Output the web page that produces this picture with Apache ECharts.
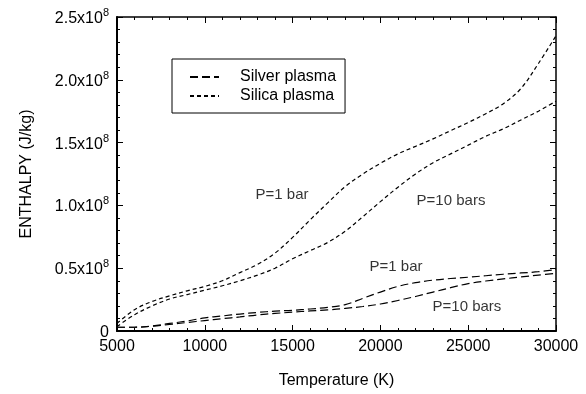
<!DOCTYPE html>
<html>
<head>
<meta charset="utf-8">
<script src="https://cdn.jsdelivr.net/npm/echarts@6/dist/echarts.min.js"></script>
<style>
  html, body { margin: 0; padding: 0; background: #fff; }
  #chart { width: 586px; height: 394px; }
</style>
</head>
<body>
<div id="chart"></div>
<script>
// Temperature grid (K)
const temperature = [5000, 6000, 7000, 8000, 9000, 10000, 11000, 12000, 13000, 14000,
  15000, 16000, 17000, 18000, 19000, 20000, 21000, 22000, 23000, 24000,
  25000, 26000, 27000, 28000, 29000, 30000];

// Enthalpy, in units of 10^8 J/kg
const silica1bar = [0.06, 0.17, 0.235, 0.28, 0.32, 0.355, 0.40, 0.465, 0.53, 0.62,
  0.745, 0.885, 1.02, 1.15, 1.25, 1.335, 1.41, 1.47, 1.53, 1.595,
  1.66, 1.73, 1.81, 1.93, 2.13, 2.35];
const silica10bar = [0.035, 0.13, 0.20, 0.255, 0.29, 0.325, 0.36, 0.40, 0.445, 0.50,
  0.575, 0.64, 0.705, 0.795, 0.91, 1.03, 1.145, 1.25, 1.34, 1.41,
  1.48, 1.55, 1.61, 1.68, 1.75, 1.83];
const silver1bar = [0.03, 0.03, 0.04, 0.06, 0.08, 0.105, 0.12, 0.135, 0.148, 0.158,
  0.165, 0.175, 0.188, 0.21, 0.26, 0.31, 0.355, 0.385, 0.405, 0.418,
  0.428, 0.44, 0.452, 0.462, 0.472, 0.49];
const silver10bar = [0.03, 0.03, 0.038, 0.052, 0.068, 0.083, 0.098, 0.112, 0.128, 0.14,
  0.15, 0.16, 0.168, 0.18, 0.195, 0.215, 0.243, 0.275, 0.31, 0.345,
  0.377, 0.398, 0.415, 0.43, 0.445, 0.46];

// Pressure annotations: [T, H (10^8 J/kg), text]
const pressureNotes = [
  [14400, 1.08, 'P=1 bar'],
  [24020, 1.04, 'P=10 bars'],
  [20890, 0.51, 'P=1 bar'],
  [24930, 0.196, 'P=10 bars']
];

const xTicks = [5000, 10000, 15000, 20000, 25000, 30000];
const yTicks = [0, 0.5, 1.0, 1.5, 2.0, 2.5];

const FONT = '"Liberation Sans", Arial, Helvetica, sans-serif';
const LONG_DASH = [8, 4];
const SHORT_DASH = [4, 3];

const pairs = (ys) => temperature.map((t, i) => [t, ys[i]]);

function curve(name, ys, dash) {
  return {
    name: name,
    type: 'line',
    data: pairs(ys),
    smooth: 0.35,
    symbol: 'none',
    showSymbol: false,
    silent: true,
    lineStyle: { color: '#000', width: 1.2, type: dash },
    itemStyle: { color: '#000' }
  };
}

// Fresh style objects for each axis
const axisLine = (w) => ({ show: true, onZero: false, lineStyle: { color: '#000', width: w } });
const majorTick = () => ({ show: true, inside: true, length: 6, lineStyle: { color: '#000', width: 1 } });
const minorTick = () => ({ show: true, splitNumber: 5, length: 3, lineStyle: { color: '#000', width: 1 } });

function xAxisOf(pos, labelled) {
  const ax = {
    type: 'value',
    position: pos,
    min: xTicks[0],
    max: xTicks[xTicks.length - 1],
    interval: xTicks[1] - xTicks[0],
    axisLine: axisLine(labelled ? 2 : 1.5),
    axisTick: majorTick(),
    minorTick: minorTick(),
    splitLine: { show: false },
    axisLabel: labelled
      ? { fontFamily: FONT, fontSize: 16, color: '#000', margin: 8, formatter: (v) => String(v) }
      : { show: false }
  };
  if (labelled) {
    ax.name = 'Temperature (K)';
    ax.nameLocation = 'middle';
    ax.nameGap = 42;
    ax.nameTextStyle = { fontFamily: FONT, fontSize: 16, color: '#000' };
  }
  return ax;
}

function yAxisOf(pos, labelled) {
  const ax = {
    type: 'value',
    position: pos,
    min: yTicks[0],
    max: yTicks[yTicks.length - 1],
    interval: yTicks[1] - yTicks[0],
    axisLine: axisLine(labelled ? 2 : 1.5),
    axisTick: majorTick(),
    minorTick: minorTick(),
    splitLine: { show: false },
    axisLabel: { show: false }
  };
  if (labelled) {
    ax.name = 'ENTHALPY (J/kg)';
    ax.nameLocation = 'middle';
    ax.nameGap = 82;
    ax.nameTextStyle = { fontFamily: FONT, fontSize: 16, color: '#000' };
    ax.axisLabel = {
      color: '#000',
      margin: 8,
      formatter: (v) => v === 0 ? '{z|0}' : '{m|' + v.toFixed(1) + 'x10}{e|8}',
      rich: {
        z: { fontFamily: FONT, fontSize: 16, color: '#000', padding: [4, 0, 0, 0] },
        m: { fontFamily: FONT, fontSize: 16, color: '#000', verticalAlign: 'bottom' },
        e: { fontFamily: FONT, fontSize: 11, color: '#000', verticalAlign: 'bottom', padding: [0, 0, 8, 0] }
      }
    };
  }
  return ax;
}

const chart = echarts.init(document.getElementById('chart'), null, { renderer: 'canvas' });

chart.setOption({
  animation: false,
  backgroundColor: '#fff',
  textStyle: { fontFamily: FONT },
  grid: { left: 117, right: 30, top: 17, bottom: 58 },
  legend: {
    data: ['Silver plasma', 'Silica plasma'],
    orient: 'vertical',
    left: 172,
    top: 59,
    padding: [10, 9, 9, 17],
    itemGap: 3,
    itemWidth: 29,
    itemHeight: 14,
    borderColor: '#000',
    borderWidth: 1,
    selectedMode: false,
    itemStyle: { opacity: 0 },
    textStyle: { fontFamily: FONT, fontSize: 16, color: '#000', padding: [0, 0, 0, 16] }
  },
  xAxis: [xAxisOf('bottom', true), xAxisOf('top', false)],
  yAxis: [yAxisOf('left', true), yAxisOf('right', false)],
  series: [
    curve('Silver plasma', silver1bar, LONG_DASH),
    curve('Silver plasma', silver10bar, LONG_DASH),
    curve('Silica plasma', silica1bar, SHORT_DASH),
    curve('Silica plasma', silica10bar, SHORT_DASH),
    {
      name: 'notes',
      type: 'scatter',
      symbolSize: 0,
      silent: true,
      data: pressureNotes.map((n) => ({ value: [n[0], n[1]], label: { formatter: n[2] } })),
      label: {
        show: true,
        position: 'inside',
        fontFamily: FONT,
        fontSize: 15,
        color: '#000'
      }
    }
  ]
});
</script>
</body>
</html>
